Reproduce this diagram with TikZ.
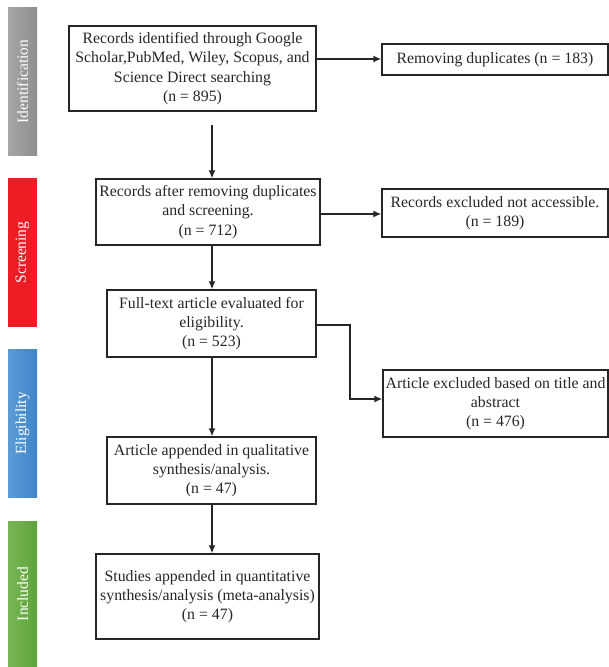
\documentclass[tikz,border=0pt]{standalone}
\usepackage{fontspec}
\setmainfont{Liberation Serif}
\usetikzlibrary{arrows.meta}
\begin{document}
\begin{tikzpicture}[x=1pt,y=-1pt,
  box/.style={draw=black!85, line width=1.2pt, align=center, inner sep=1pt,
    font=\fontsize{15.8}{19.3}\selectfont, text=black!85},
  bar/.style={rotate=90, minimum height=29pt, inner sep=0pt, text=white,
    font=\fontsize{15.5}{17}\selectfont},
  arr/.style={line width=1.6pt, draw=black!85, -{Latex[length=8pt,width=7pt]}},
  ln/.style={line width=1.6pt, draw=black!85}]
\useasboundingbox (0,0) rectangle (609,667);
\definecolor{gA}{HTML}{A6A6A6}\definecolor{gB}{HTML}{8E8E8E}
\definecolor{rA}{HTML}{EE1C25}
\definecolor{bA}{HTML}{5B9BD8}\definecolor{bB}{HTML}{3F85C8}
\definecolor{eA}{HTML}{78B653}\definecolor{eB}{HTML}{5FA33C}
% side bars
\node[bar, minimum width=148pt, left color=gA, right color=gB] (id) at (22.5,81.5) {Identification};
\node[bar, minimum width=149pt, fill=rA] (sc) at (22.5,252.5) {Screening};
\node[bar, minimum width=148pt, left color=bA, right color=bB] (el) at (22.5,423.5) {Eligibility};
\node[bar, minimum width=146pt, left color=eA, right color=eB] (in) at (22.5,594) {Included};
% boxes
\node[box, minimum width=247pt, minimum height=85pt] (b1) at (192.5,68.5)
  {Records identified through Google\\Scholar,PubMed, Wiley, Scopus, and\\Science Direct searching\\(n = 895)};
\node[box, minimum width=226pt, minimum height=31pt] (r1) at (495,59.5)
  {Removing duplicates (n = 183)};
\node[box, minimum width=224pt, minimum height=66pt] (b2) at (208,212)
  {Records after removing duplicates\\and screening.\\(n = 712)};
\node[box, minimum width=226pt, minimum height=48pt] (r2) at (495,213)
  {Records excluded not accessible.\\(n = 189)};
\node[box, minimum width=209pt, minimum height=67pt] (b3) at (211.5,323.5)
  {Full-text article evaluated for\\eligibility.\\(n = 523)};
\node[box, minimum width=225pt, minimum height=67pt] (r3) at (495.5,403.5)
  {Article excluded based on title and\\abstract\\(n = 476)};
\node[box, minimum width=209pt, minimum height=67pt] (b4) at (211.5,470.5)
  {Article appended in qualitative\\synthesis/analysis.\\(n = 47)};
\node[box, minimum width=223pt, minimum height=85pt] (b5) at (207.5,596.5)
  {Studies appended in quantitative\\synthesis/analysis (meta-analysis)\\(n = 47)};
% connectors
\coordinate (b1s) at (212,125);
\coordinate (b1r) at (b1.east |- 0,59);
\coordinate (b2r) at (b2.east |- 0,214);
\coordinate (b3r) at (b3.east |- 0,325);
\coordinate (kn) at (350,325);
\coordinate (kd) at (350,399);
\draw[arr] (b1r) -- (b1r -| r1.west);
\draw[arr] (b1s) -- (b1s |- b2.north);
\draw[arr] (b2r) -- (b2r -| r2.west);
\draw[arr] (212,0 |- b2.south) -- (212,0 |- b3.north);
\draw[arr] (b3r) -- (kn) -- (kd) -- (kd -| r3.west);
\draw[arr] (212,0 |- b3.south) -- (212,0 |- b4.north);
\draw[arr] (212,0 |- b4.south) -- (212,0 |- b5.north);
\end{tikzpicture}
\end{document}
